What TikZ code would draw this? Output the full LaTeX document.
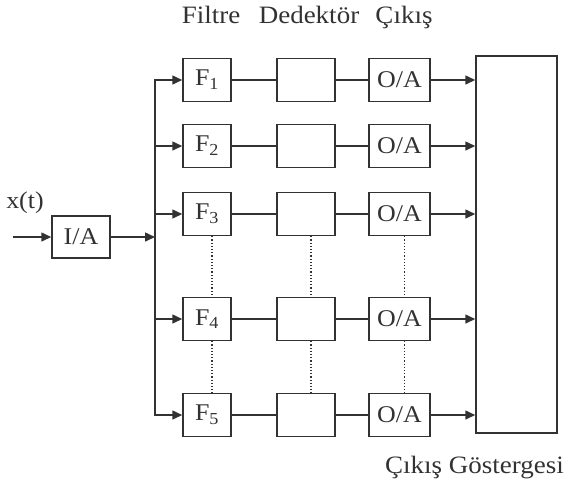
\documentclass[tikz,border=0pt]{standalone}
\usepackage{fontspec}
\setmainfont{Liberation Serif}[FakeStretch=1.08]
\usepackage{tikz}
\usetikzlibrary{arrows.meta,positioning}
\definecolor{myink}{RGB}{50,50,50}

\begin{document}
\begin{tikzpicture}[x=1pt, y=-1pt, color=myink, line width=1.5pt,
    font=\fontsize{24}{28}\selectfont,
    blk/.style={draw=myink, line width=1.5pt, inner sep=0pt,
                minimum height=43pt},
    lbl/.style={font=\fontsize{25}{30}\selectfont, anchor=base},
    arr/.style={-{Triangle[length=10pt,width=9pt]}}]
  \useasboundingbox (0,0) rectangle (569,496);

  % column titles
  \node[lbl] (tfil) at (211,23){Filtre};
  \node[lbl] (tded) at (309,23){Dedektör};
  \node[lbl] (tcik) at (404,23){Çıkış};

  % input side
  \node (xt) at (25,203){x(t)};
  \node[blk, minimum width=58pt, minimum height=42pt] (ia) at (81,237){I/A};
  \coordinate (in) at (13,237);
  \coordinate (bi) at (155,237);
  \draw[arr] (in) -- (ia);
  \draw[arr] (ia) -- (bi);

  % output display
  \node[blk, minimum width=81pt, minimum height=377pt] (disp) at (516.5,244.5){};
  \node[lbl, anchor=base east] (gost) at (568,473){Çıkış Göstergesi};

  % channels
  \foreach \i/\y in {1/80, 2/146, 3/214, 4/319, 5/415}{
    \node[blk, minimum width=48pt] (f\i) at (207,\y){F\textsubscript{\i}};
    \node[blk, minimum width=58pt] (d\i) at (306,\y){};
    \node[blk, minimum width=61pt] (oa\i) at (399.5,\y){O/A};
    \coordinate (b\i) at (155,\y);
    \draw[arr] (b\i) -- (f\i);
    \draw (f\i) -- (d\i);
    \draw (d\i) -- (oa\i);
    \draw[arr] (oa\i) -- (oa\i -| disp.west);
  }
  \draw[line cap=rect] (b1) -- (b5);

  % omitted channels
  \foreach \c in {f, d, oa}{
    \draw[dotted, line width=1.2pt] ([xshift=5pt]\c3.south) -- ([xshift=5pt]\c4.north);
    \draw[dotted, line width=1.2pt] ([xshift=5pt]\c4.south) -- ([xshift=5pt]\c5.north);
  }
\end{tikzpicture}
\end{document}
